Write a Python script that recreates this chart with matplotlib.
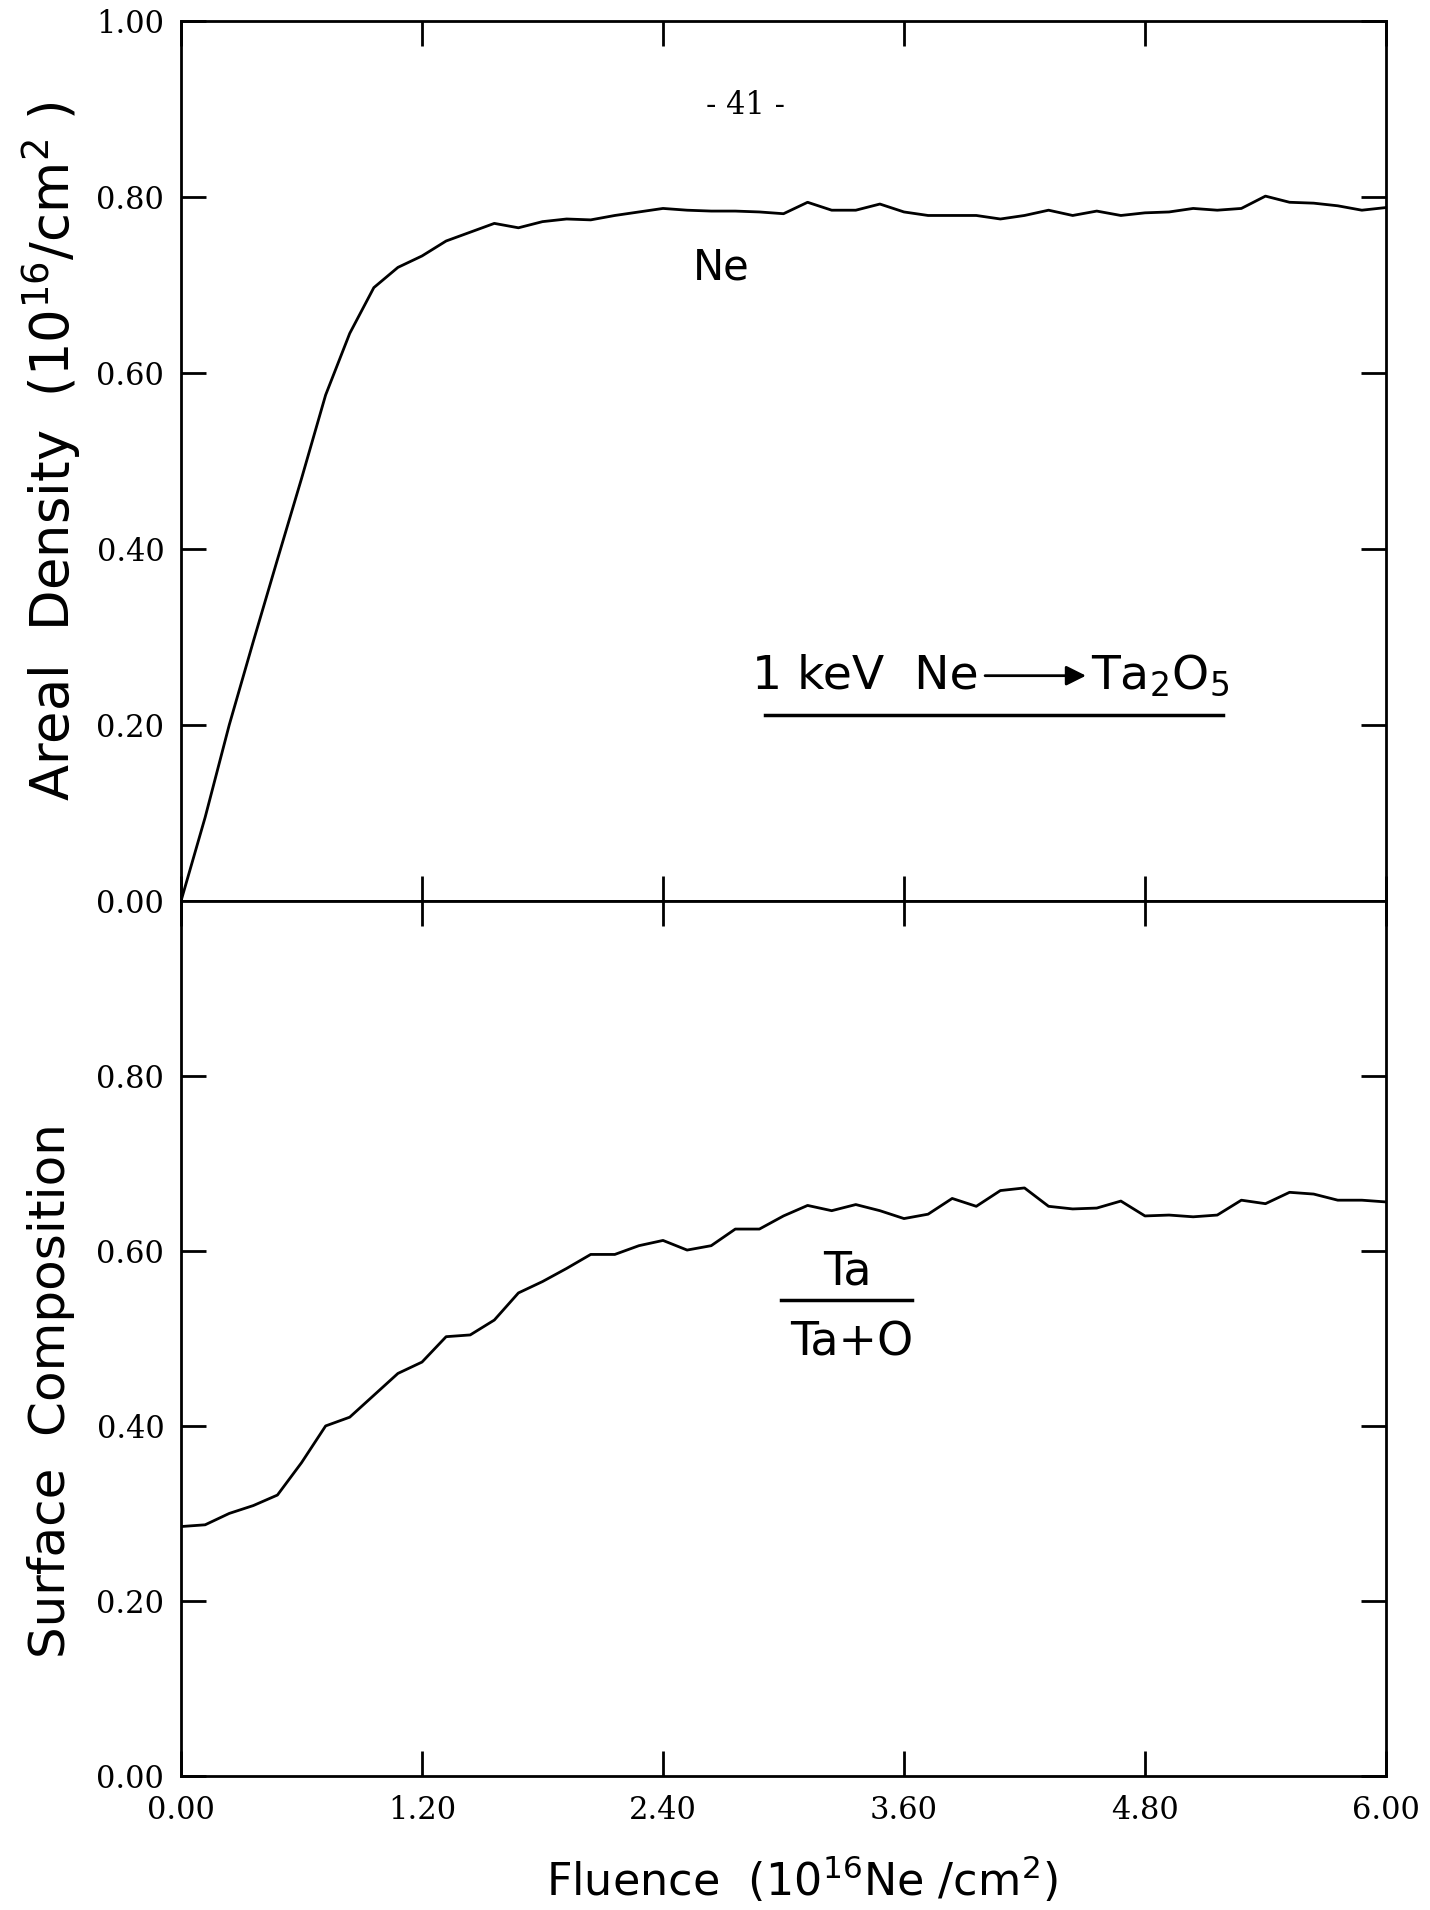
import matplotlib.pyplot as plt

# Fluence (10^16 Ne/cm^2), one reading every 0.12
fluence = [0.00, 0.12, 0.24, 0.36, 0.48, 0.60, 0.72, 0.84, 0.96, 1.08,
           1.20, 1.32, 1.44, 1.56, 1.68, 1.80, 1.92, 2.04, 2.16, 2.28,
           2.40, 2.52, 2.64, 2.76, 2.88, 3.00, 3.12, 3.24, 3.36, 3.48,
           3.60, 3.72, 3.84, 3.96, 4.08, 4.20, 4.32, 4.44, 4.56, 4.68,
           4.80, 4.92, 5.04, 5.16, 5.28, 5.40, 5.52, 5.64, 5.76, 5.88,
           6.00]

# Ne areal density (10^16/cm^2)
ne_density = [0.000, 0.095, 0.200, 0.295, 0.388, 0.480, 0.575, 0.645, 0.697, 0.720,
              0.733, 0.750, 0.760, 0.770, 0.765, 0.772, 0.775, 0.774, 0.779, 0.783,
              0.787, 0.785, 0.784, 0.784, 0.783, 0.781, 0.794, 0.785, 0.785, 0.792,
              0.783, 0.779, 0.779, 0.779, 0.775, 0.779, 0.785, 0.779, 0.784, 0.779,
              0.782, 0.783, 0.787, 0.785, 0.787, 0.801, 0.794, 0.793, 0.790, 0.785,
              0.788]

# surface composition Ta/(Ta+O)
ta_frac = [0.285, 0.287, 0.300, 0.309, 0.321, 0.358, 0.400, 0.410, 0.435, 0.460,
           0.473, 0.502, 0.504, 0.521, 0.552, 0.565, 0.580, 0.596, 0.596, 0.606,
           0.612, 0.601, 0.606, 0.625, 0.625, 0.640, 0.652, 0.646, 0.653, 0.646,
           0.637, 0.642, 0.660, 0.651, 0.669, 0.672, 0.651, 0.648, 0.649, 0.657,
           0.640, 0.641, 0.639, 0.641, 0.658, 0.654, 0.667, 0.665, 0.658, 0.658,
           0.656]

xticks = [0.0, 1.2, 2.4, 3.6, 4.8, 6.0]
yticks_top = [0.0, 0.2, 0.4, 0.6, 0.8, 1.0]
yticks_bot = [0.0, 0.2, 0.4, 0.6, 0.8]

tickfont = {'family': 'DejaVu Serif', 'size': 22}

fig = plt.figure(figsize=(14.30, 19.10), dpi=100)
ax1 = fig.add_axes([0.1266, 0.5283, 0.8426, 0.4607])
ax2 = fig.add_axes([0.1266, 0.0702, 0.8426, 0.4581])

for ax in (ax1, ax2):
    ax.set_xlim(0, 6)
    ax.set_ylim(0, 1)
    ax.set_xticks(xticks)
    for s in ax.spines.values():
        s.set_linewidth(2)
    ax.tick_params(direction='in', length=18, width=2, top=True, right=True,
                   pad=12)

ax1.plot(fluence, ne_density, color='black', lw=2)
ax1.set_yticks(yticks_top)
ax1.set_yticklabels(['%.2f' % v for v in yticks_top], fontdict=tickfont)
ax1.set_xticklabels([])

ax2.plot(fluence, ta_frac, color='black', lw=2)
ax2.set_yticks(yticks_bot)
ax2.set_yticklabels(['%.2f' % v for v in yticks_bot], fontdict=tickfont)
ax2.set_xticklabels(['%.2f' % v for v in xticks], fontdict=tickfont)
ax2.tick_params(axis='x', pad=14)

# labels
fig.text(0.036, 0.764, 'Areal  Density  (10$^{16}$/cm$^2$ )', rotation=90,
         ha='center', va='center', fontsize=38, family='DejaVu Sans')
fig.text(0.036, 0.272, 'Surface  Composition', rotation=90,
         ha='center', va='center', fontsize=36, family='DejaVu Sans')
fig.text(0.561, 0.016, 'Fluence  (10$^{16}$Ne /cm$^2$)', ha='center',
         va='center', fontsize=32, family='DejaVu Sans')
fig.text(0.521, 0.945, '- 41 -', ha='center', va='center', fontsize=22,
         family='DejaVu Serif')

# annotations in the top panel
ax1.text(2.69, 0.72, 'Ne', ha='center', va='center', fontsize=30)
ax1.text(3.97, 0.242, '1 keV  Ne', ha='right', va='baseline', fontsize=34)
ax1.annotate('', xy=(4.52, 0.256), xytext=(3.99, 0.256),
             arrowprops=dict(arrowstyle='-|>', color='black', lw=2,
                             mutation_scale=30))
ax1.text(4.53, 0.242, 'Ta$_2$O$_5$', ha='left', va='baseline', fontsize=34)
ax1.plot([2.91, 5.19], [0.211, 0.211], color='black', lw=2.5)

# fraction label in the bottom panel
ax2.text(3.32, 0.562, 'Ta', ha='center', va='baseline', fontsize=33)
ax2.plot([2.99, 3.64], [0.544, 0.544], color='black', lw=2.5)
ax2.text(3.34, 0.480, 'Ta+O', ha='center', va='baseline', fontsize=33)

fig.savefig('out.png', dpi=100)
